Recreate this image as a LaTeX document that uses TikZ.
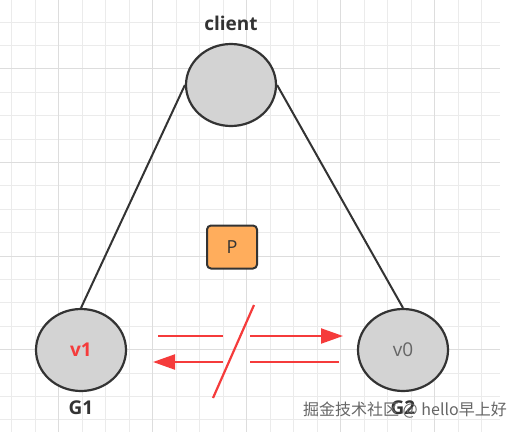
\documentclass[tikz,border=0pt]{standalone}
\usepackage{fontspec}
\setmainfont{Open Sans}
\newfontfamily\cjk{Noto Sans CJK SC}
\usetikzlibrary{arrows.meta,shapes.geometric}
\definecolor{gridc}{HTML}{EBEBEB}
\definecolor{gridd}{HTML}{DDDDDD}
\definecolor{nodefill}{HTML}{D3D3D3}
\definecolor{edge}{HTML}{333333}
\definecolor{redc}{HTML}{F53B3B}
\definecolor{pfill}{HTML}{FFAD5C}
\tikzset{
  circ/.style={ellipse, draw=edge, line width=2.2pt, fill=nodefill, minimum width=90pt, minimum height=82pt, inner sep=0pt},
  lbl/.style={font=\fontsize{19}{22}\selectfont\bfseries, text=edge},
  link/.style={draw=edge, line width=2pt},
  redline/.style={draw=redc, line width=2.2pt},
  redarrow/.style={redline, -{Triangle[length=22pt,width=15pt]}},
}
\begin{document}
\begin{tikzpicture}[x=1pt,y=-1pt]
\useasboundingbox (0,0) rectangle (519,432);
\fill[white] (0,0) rectangle (519,432);
% grid
\foreach \k in {0,...,20} {
  \pgfmathsetmacro\xx{11.7+23.5*\k}
  \draw[gridc, line width=0.8pt] (\xx,0) -- (\xx,432);
}
\foreach \k in {0,...,17} {
  \pgfmathsetmacro\yy{22+23.4*\k}
  \draw[gridc, line width=0.8pt] (0,\yy) -- (500,\yy);
}
\foreach \k in {2,6,10,14,18} {
  \pgfmathsetmacro\xx{11.7+23.5*\k}
  \draw[gridd, line width=0.8pt] (\xx,0) -- (\xx,432);
}
\foreach \k in {2,6,10,14} {
  \pgfmathsetmacro\yy{22+23.4*\k}
  \draw[gridd, line width=0.8pt] (0,\yy) -- (500,\yy);
}
% nodes
\node[circ] (client) at (231,85) {};
\node[lbl] (clientlbl) at (231,23) {client};
\node[circ] (g1) at (81,350) {};
\node[font=\fontsize{19}{22}\selectfont\bfseries, text=redc] (v1) at (81,350) {v1};
\node[lbl] (g1lbl) at (81,408) {G1};
\node[circ] (g2) at (403,350) {};
\node[font=\fontsize{19}{22}\selectfont, text=edge!75] (v0) at (403,350) {v0};
\node[lbl] (g2lbl) at (403,408) {G2};
\node[draw=edge, line width=2pt, fill=pfill, rounded corners=4pt, minimum width=50pt, minimum height=43pt, font=\fontsize{18}{20}\selectfont, text=edge] (p) at (232,247) {P};
% links
\draw[link] (client.west) -- (g1.north);
\draw[link] (client.east) -- (g2.north);
% red arrows
\coordinate (t1) at (158,336);
\coordinate (t2) at (223,336);
\coordinate (t3) at (250,336);
\coordinate (t4) at (343,336);
\coordinate (b1) at (339,362);
\coordinate (b2) at (250,362);
\coordinate (b3) at (223,362);
\coordinate (b4) at (153,362);
\coordinate (s1) at (254,305);
\coordinate (s2) at (213,398);
\draw[redline] (t1) -- (t2);
\draw[redarrow] (t3) -- (t4);
\draw[redline] (b1) -- (b2);
\draw[redarrow] (b3) -- (b4);
\draw[redline] (s1) -- (s2);
% watermark
\node[font=\cjk\fontsize{16}{19}\selectfont, text=black!60, anchor=east, inner sep=0pt] (wm) at (507,410) {掘金技术社区 @ hello早上好};
\end{tikzpicture}
\end{document}
